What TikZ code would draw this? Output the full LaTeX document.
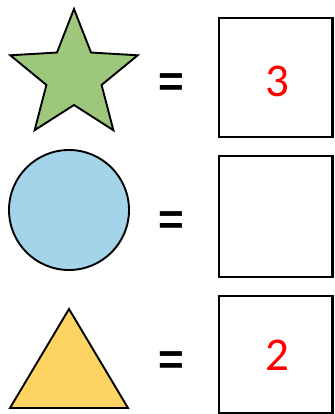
\documentclass[tikz,border=0pt]{standalone}
\usepackage{fontspec}
\usetikzlibrary{calc}
\setmainfont{Carlito}
\newfontfamily\eqfont{Liberation Sans}
\definecolor{stargreen}{RGB}{157,199,122}
\definecolor{circblue}{RGB}{164,212,234}
\definecolor{triyellow}{RGB}{253,211,98}
\definecolor{numred}{RGB}{255,0,0}
\tikzset{
  shapeline/.style={draw=black, line width=1.9pt, line join=miter},
  answerbox/.style={draw=black, line width=2.4pt},
  eqsign/.style={font=\eqfont\bfseries\fontsize{44}{44}\selectfont, inner sep=0pt, anchor=base},
  numtext/.style={font=\fontsize{47}{47}\selectfont, text=numred, inner sep=0pt, anchor=base}
}
\begin{document}
\begin{tikzpicture}[x=1pt,y=1pt]
\useasboundingbox (0,0) rectangle (334,414);
% star
\coordinate (sc) at (74,338);
\draw[shapeline, fill=stargreen]
  ($(sc)+(90:67)$) -- ($(sc)+(126:29)$) -- ($(sc)+(162:67)$) -- ($(sc)+(198:29)$) --
  ($(sc)+(234:67)$) -- ($(sc)+(270:29)$) -- ($(sc)+(306:67)$) -- ($(sc)+(342:29)$) --
  ($(sc)+(18:67)$) -- ($(sc)+(54:29)$) -- cycle;
% circle
\node[shapeline, fill=circblue, circle, minimum size=120pt, inner sep=0pt] (circ) at (69,204) {};
% triangle
\coordinate (ta) at (69,105);
\coordinate (tl) at (10,6);
\coordinate (tr) at (128,6);
\draw[shapeline, fill=triyellow] (ta) -- (tl) -- (tr) -- cycle;
% equals signs
\node[eqsign] (eq1) at (171.5,317) {=};
\node[eqsign] (eq2) at (171.5,179) {=};
\node[eqsign] (eq3) at (171.5,39) {=};
% boxes
\draw[answerbox] (219,277) rectangle (332.5,396);
\draw[answerbox] (219,137) rectangle (332.5,258);
\draw[answerbox] (219,1) rectangle (332.5,118);
% numbers
\node[numtext] (n1) at (277,317.3) {3};
\node[numtext] (n3) at (277,43) {2};
\end{tikzpicture}
\end{document}
